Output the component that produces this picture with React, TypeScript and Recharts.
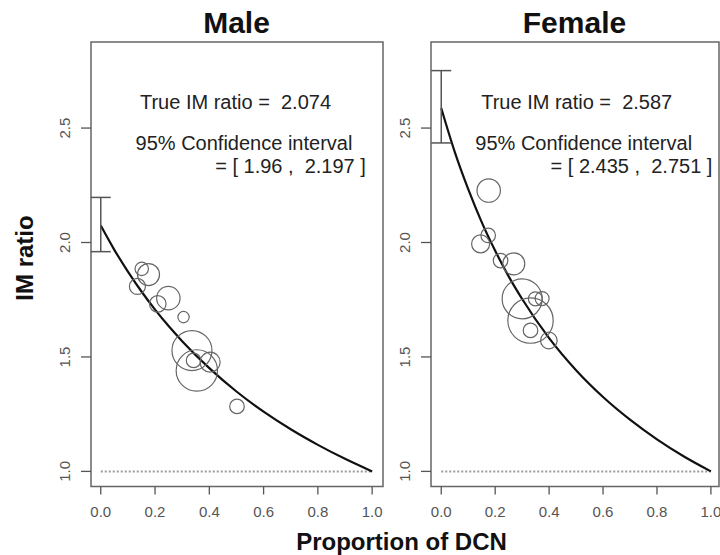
import React from 'react';
import {
  ComposedChart,
  XAxis,
  YAxis,
  ZAxis,
  Line,
  Scatter,
  ErrorBar,
  ReferenceArea,
  ReferenceLine,
} from 'recharts';

// axis ticks
const xTicks = [0, 0.2, 0.4, 0.6, 0.8, 1.0];
const yTicks = [1.0, 1.5, 2.0, 2.5];

// fitted curves
const curveX = [0, 0.05, 0.1, 0.15, 0.2, 0.25, 0.3, 0.4, 0.5, 0.6, 0.7, 0.8, 0.9, 1.0];
const maleCurveY = [2.074, 1.968, 1.873, 1.786, 1.707, 1.635, 1.569, 1.451, 1.349, 1.261, 1.184, 1.116, 1.055, 1.0];
const femaleCurveY = [2.587, 2.396, 2.233, 2.089, 1.964, 1.852, 1.753, 1.582, 1.442, 1.325, 1.226, 1.14, 1.065, 1.0];

// study bubbles (n = relative weight, drives circle area)
const maleX = [0.151, 0.176, 0.135, 0.249, 0.21, 0.305, 0.336, 0.354, 0.342, 0.403, 0.502];
const maleY = [1.885, 1.86, 1.808, 1.757, 1.732, 1.674, 1.528, 1.441, 1.485, 1.477, 1.284];
const maleN = [45, 121, 64, 137, 69, 32, 400, 428, 53, 100, 53];

const femaleX = [0.176, 0.146, 0.174, 0.22, 0.269, 0.3, 0.331, 0.331, 0.349, 0.374, 0.399];
const femaleY = [2.227, 1.994, 2.031, 1.921, 1.907, 1.754, 1.659, 1.616, 1.754, 1.755, 1.572];
const femaleN = [137, 81, 53, 53, 121, 400, 515, 53, 49, 49, 69];

// estimate and 95% CI
const maleEst = 2.074;
const maleCI = [1.96, 2.197];
const femaleEst = 2.587;
const femaleCI = [2.435, 2.751];

const font = '"Liberation Sans", Arial, Helvetica, sans-serif';
const yDomain = [0.934, 2.876];

const toPoints = (xs: number[], ys: number[], ns?: number[]) =>
  xs.map((x, i) => ({ x, y: ys[i], n: ns ? ns[i] : 0 }));

const RotTick = (props: any) => {
  const { x, y, payload } = props;
  return (
    <text
      x={x}
      y={y}
      transform={`rotate(-90 ${x} ${y})`}
      textAnchor="middle"
      fill="#555"
      fontSize={15}
      fontFamily={font}
    >
      {Number(payload.value).toFixed(1)}
    </text>
  );
};

function Panel({ left, width, marginRight, xDomain, curveY, xs, ys, ns, est, ci }: any) {
  const curve = toPoints(curveX, curveY);
  const bubbles = toPoints(xs, ys, ns);
  const bar = [{ x: 0, y: est, err: [est - ci[0], ci[1] - est] }];
  return (
    <div style={{ position: 'absolute', left, top: 0 }}>
      <ComposedChart width={width} height={555} margin={{ top: 42, right: marginRight, bottom: 0, left: 31 }}>
        <XAxis
          type="number"
          dataKey="x"
          domain={xDomain}
          ticks={xTicks}
          interval={0}
          allowDataOverflow
          axisLine={false}
          tickSize={8}
          tickMargin={12}
          height={68.5}
          tickLine={{ stroke: '#555', strokeWidth: 1.3 }}
          tick={{ fill: '#555', fontSize: 15, fontFamily: font }}
          tickFormatter={(v: number) => v.toFixed(1)}
        />
        <YAxis
          type="number"
          dataKey="y"
          domain={yDomain}
          ticks={yTicks}
          interval={0}
          allowDataOverflow
          width={60}
          axisLine={false}
          tickSize={10}
          tickMargin={11}
          tickLine={{ stroke: '#555', strokeWidth: 1.3 }}
          tick={<RotTick />}
        />
        <ZAxis type="number" dataKey="n" domain={[0, 600]} range={[0, Math.PI * 600]} />
        <ReferenceArea
          x1={xDomain[0]}
          x2={xDomain[1]}
          y1={yDomain[0]}
          y2={yDomain[1]}
          fill="none"
          stroke="#666"
          strokeWidth={1.5}
          fillOpacity={0}
        />
        <ReferenceLine
          segment={[{ x: 0, y: 1 }, { x: 1, y: 1 }]}
          stroke="#999"
          strokeWidth={2}
          strokeDasharray="2 2"
        />
        <Scatter
          data={bubbles}
          fill="none"
          stroke="#666"
          strokeWidth={1.2}
          isAnimationActive={false}
        />
        <Line
          data={curve}
          dataKey="y"
          type="monotone"
          stroke="#111"
          strokeWidth={2.2}
          dot={false}
          activeDot={false}
          isAnimationActive={false}
        />
        <Scatter data={bar} shape={() => <g />} isAnimationActive={false}>
          <ErrorBar dataKey="err" direction="y" width={10} stroke="#555" strokeWidth={1.5} isAnimationActive={false} />
        </Scatter>
      </ComposedChart>
    </div>
  );
}

export default function App() {
  const ann = { fontFamily: font, fontSize: 20, fill: '#222', whiteSpace: 'pre' as const };
  return (
    <div style={{ position: 'absolute', left: 0, top: 0, width: 720, height: 555, overflow: 'hidden', background: '#fff' }}>
      <Panel
        left={0}
        width={400}
        marginRight={17}
        xDomain={[-0.036, 1.04]}
        curveY={maleCurveY}
        xs={maleX}
        ys={maleY}
        ns={maleN}
        est={maleEst}
        ci={maleCI}
      />
      <Panel
        left={340}
        width={380}
        marginRight={1}
        xDomain={[-0.038, 1.03]}
        curveY={femaleCurveY}
        xs={femaleX}
        ys={femaleY}
        ns={femaleN}
        est={femaleEst}
        ci={femaleCI}
      />
      <svg width={720} height={555} style={{ position: 'absolute', left: 0, top: 0, pointerEvents: 'none' }}>
        <g fontFamily={font} fontWeight="bold" fill="#111">
          <text x={236.5} y={33} fontSize={30} textAnchor="middle">Male</text>
          <text x={574.5} y={33} fontSize={30} textAnchor="middle">Female</text>
          <text x={401.5} y={550} fontSize={24} textAnchor="middle">Proportion of DCN</text>
          <text x={33} y={258} fontSize={24} textAnchor="middle" transform="rotate(-90 33 258)">IM ratio</text>
        </g>
        <text x={235.5} y={109} textAnchor="middle" style={ann}>{`True IM ratio =  ${maleEst}`}</text>
        <text x={244} y={150} textAnchor="middle" style={ann}>95% Confidence interval</text>
        <text x={290.5} y={173} textAnchor="middle" style={ann}>{`= [ ${maleCI[0]} ,  ${maleCI[1]} ]`}</text>
        <text x={576.7} y={109} textAnchor="middle" style={ann}>{`True IM ratio =  ${femaleEst}`}</text>
        <text x={583.7} y={150} textAnchor="middle" style={ann}>95% Confidence interval</text>
        <text x={631.5} y={173} textAnchor="middle" style={ann}>{`= [ ${femaleCI[0]} ,  ${femaleCI[1]} ]`}</text>
      </svg>
    </div>
  );
}
